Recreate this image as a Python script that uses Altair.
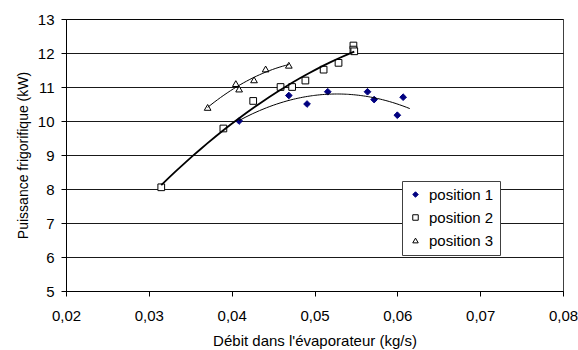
import altair as alt
import pandas as pd

# Data
p1_x = [0.0409, 0.0469, 0.0491, 0.0516, 0.0564, 0.0572, 0.0600, 0.0607]
p1_y = [10.00, 10.75, 10.50, 10.86, 10.86, 10.63, 10.17, 10.70]

p2_x = [0.0315, 0.0390, 0.0426, 0.0459, 0.0473, 0.0489, 0.0511, 0.0529, 0.0547, 0.0547, 0.0548]
p2_y = [8.05, 9.78, 10.59, 11.00, 11.00, 11.19, 11.51, 11.71, 12.22, 12.10, 12.05]

p3_x = [0.0371, 0.0405, 0.0409, 0.0427, 0.0441, 0.0469]
p3_y = [10.40, 11.10, 10.94, 11.21, 11.53, 11.64]

series_names = ["position 1", "position 2", "position 3"]
x_ticks = [0.02, 0.03, 0.04, 0.05, 0.06, 0.07, 0.08]
y_ticks = [5, 6, 7, 8, 9, 10, 11, 12, 13]

rows = []
for name, xs, ys in zip(series_names, [p1_x, p2_x, p3_x], [p1_y, p2_y, p3_y]):
    for a, b in zip(xs, ys):
        rows.append({"x": a, "y": b, "series": name})
df = pd.DataFrame(rows)

FONT = "Liberation Sans"

x_enc = alt.X(
    "x:Q",
    scale=alt.Scale(domain=[0.02, 0.08], nice=False),
    axis=alt.Axis(
        title="Débit dans l'évaporateur (kg/s)",
        values=x_ticks,
        labelExpr="replace(format(datum.value, '.2f'), '.', ',')",
        grid=False,
        tickSize=5,
        labelPadding=12,
        titlePadding=10,
        labelFlush=False,
        labelOverlap=False,
        labelFontSize=15,
        titleFontSize=15,
    ),
)
y_enc = alt.Y(
    "y:Q",
    scale=alt.Scale(domain=[5, 13], nice=False),
    axis=alt.Axis(
        title="Puissance frigorifique (kW)",
        values=y_ticks,
        tickCount=9,
        grid=True,
        tickSize=5,
        labelPadding=7,
        titlePadding=7,
        labelOverlap=False,
        labelFlush=False,
        labelFontSize=15,
        titleFontSize=14,
    ),
)

points = alt.Chart(df).mark_point(filled=True, size=45, strokeWidth=1, opacity=1).encode(
    x=x_enc,
    y=y_enc,
    shape=alt.Shape("series:N", scale=alt.Scale(domain=series_names,
                                                range=["diamond", "square", "triangle-up"]),
                    legend=alt.Legend(title=None)),
    fill=alt.Fill("series:N", scale=alt.Scale(domain=series_names,
                                              range=["#000080", "white", "white"]),
                  legend=alt.Legend(title=None)),
    stroke=alt.Stroke("series:N", scale=alt.Scale(domain=series_names,
                                                  range=["#000080", "black", "black"]),
                      legend=alt.Legend(title=None)),
)

def trend(name, extent, width):
    return (
        alt.Chart(df)
        .transform_filter(alt.datum.series == name)
        .transform_regression("x", "y", method="poly", order=2, extent=extent)
        .mark_line(color="black", strokeWidth=width)
        .encode(x=x_enc, y=y_enc)
    )

t1 = trend("position 1", [0.0409, 0.0615], 1)
t2 = trend("position 2", [0.0315, 0.0548], 1.8)
t3 = trend("position 3", [0.0371, 0.0469], 1)

chart = (
    alt.layer(points, t1, t2, t3)
    .properties(
        width=497,
        height=272,
        autosize=alt.AutoSizeParams(type="none"),
        padding={"left": 66, "top": 19, "right": 15, "bottom": 59},
        background="white",
    )
    .configure_view(stroke="#404040", strokeWidth=1)
    .configure_axis(
        labelFont=FONT,
        titleFont=FONT,
        titleFontWeight="normal",
        labelColor="black",
        titleColor="black",
        domainColor="black",
        tickColor="black",
        gridColor="black",
        gridWidth=1,
        gridOpacity=0.9,
    )
    .configure_legend(
        orient="none",
        legendX=336,
        legendY=162,
        strokeColor="#404040",
        fillColor="white",
        padding=6,
        labelFont=FONT,
        labelFontSize=15,
        labelColor="black",
        symbolSize=30,
        symbolStrokeWidth=1,
        rowPadding=7,
        labelOffset=6,
    )
)

chart.save("out.html", embed_options={"renderer": "svg", "actions": False})
